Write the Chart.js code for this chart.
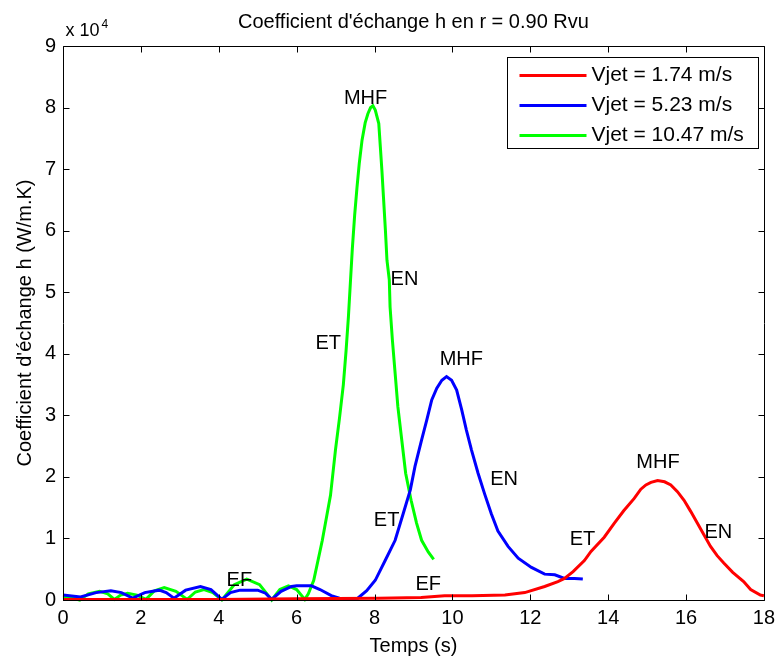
<!doctype html>
<html lang="fr">
<head>
<meta charset="utf-8">
<title>Coefficient d'échange h en r = 0.90 Rvu</title>
<style>
  * { margin: 0; padding: 0; }
  body { background: #fff; }
</style>
</head>
<body>
<canvas id="myChart" width="781" height="659"></canvas>
<script src="https://cdn.jsdelivr.net/npm/chart.js/dist/chart.umd.min.js"></script>
<script>
// h values are in units of 10^4 W/m.K, time in s

// Vjet = 1.74 m/s
const redT = [0, 2, 4, 6, 8.1, 9.2, 9.8, 10.5, 11.35, 11.86, 12.37, 12.71, 12.88, 13.1, 13.39, 13.56, 13.9, 14.16,
  14.4, 14.67, 14.84, 14.97, 15.1, 15.27, 15.45, 15.61, 15.78, 15.95, 16.12, 16.29, 16.46, 16.63, 16.8, 16.97,
  17.2, 17.48, 17.66, 17.91, 18.0];
const redH = [0.01, 0.01, 0.01, 0.02, 0.03, 0.04, 0.07, 0.07, 0.08, 0.12, 0.22, 0.30, 0.35, 0.46, 0.64, 0.79, 1.02, 1.25,
  1.45, 1.65, 1.8, 1.87, 1.91, 1.94, 1.92, 1.87, 1.76, 1.62, 1.44, 1.25, 1.06, 0.87, 0.72, 0.60,
  0.45, 0.30, 0.17, 0.08, 0.07];

// Vjet = 5.23 m/s
const blueT = [0, 0.45, 0.85, 1.23, 1.5, 1.79, 2.1, 2.47, 2.65, 2.85, 3.15, 3.53, 3.8, 4.08, 4.3, 4.55, 5.0, 5.2, 5.36,
  5.6, 5.87, 6.0, 6.38, 6.6, 6.89, 7.1, 7.23, 7.57, 7.8, 8.02, 8.28, 8.53, 8.74, 8.92, 9.04, 9.21, 9.34, 9.47, 9.6,
  9.73, 9.85, 9.98, 10.11, 10.24, 10.36, 10.49, 10.66, 10.83, 11.0, 11.17, 11.43, 11.69, 12.03, 12.37, 12.63,
  12.88, 13.14, 13.35];
const blueH = [0.08, 0.05, 0.12, 0.15, 0.12, 0.03, 0.12, 0.16, 0.12, 0.03, 0.16, 0.22, 0.17, 0.01, 0.12, 0.16, 0.16, 0.11, 0.01,
  0.14, 0.22, 0.23, 0.23, 0.17, 0.07, 0.03, 0.02, 0.03, 0.15, 0.32, 0.65, 0.97, 1.41, 1.79, 2.17, 2.6, 2.92, 3.25, 3.44,
  3.57, 3.63, 3.57, 3.41, 3.09, 2.76, 2.44, 2.06, 1.72, 1.4, 1.12, 0.87, 0.68, 0.53, 0.42, 0.41,
  0.35, 0.35, 0.34];

// Vjet = 10.47 m/s
const greenT = [0, 0.2, 0.43, 0.65, 0.94, 1.15, 1.32, 1.48, 1.66, 1.9, 2.13, 2.35, 2.6, 2.9, 3.19, 3.4, 3.62, 3.85, 4.08,
  4.4, 4.72, 5.05, 5.36, 5.57, 5.79, 6.0, 6.21, 6.3, 6.44, 6.66, 6.87, 7.0, 7.1, 7.2, 7.27, 7.33, 7.38, 7.43, 7.49,
  7.55, 7.61, 7.68, 7.76, 7.83, 7.9, 7.96, 8.02, 8.11, 8.15, 8.19, 8.23, 8.28, 8.32, 8.38, 8.4, 8.46, 8.53, 8.6,
  8.7, 8.8, 8.94, 9.08, 9.21, 9.38, 9.52];
const greenH = [0.05, 0.04, 0.0, 0.1, 0.14, 0.1, 0.01, 0.08, 0.11, 0.08, 0.01, 0.15, 0.2, 0.14, 0.01, 0.13, 0.17, 0.12, 0.0,
  0.25, 0.34, 0.25, 0.0, 0.17, 0.23, 0.17, 0.01, 0.1, 0.32, 0.97, 1.7, 2.45, 2.95, 3.5, 4.05, 4.6, 5.15, 5.7, 6.25,
  6.7, 7.1, 7.47, 7.75, 7.9, 8.0, 8.03, 7.96, 7.74, 7.36, 6.98, 6.55, 6.01, 5.52, 5.2, 4.76, 4.22, 3.68, 3.14,
  2.6, 2.06, 1.62, 1.25, 0.97, 0.78, 0.66];

const seriesLabels = ['Vjet = 1.74 m/s', 'Vjet = 5.23 m/s', 'Vjet = 10.47 m/s'];
const seriesColors = ['#ff0000', '#0000ff', '#00ff00'];

const xTicks = [0, 2, 4, 6, 8, 10, 12, 14, 16, 18];
const yTicks = [0, 1, 2, 3, 4, 5, 6, 7, 8, 9];

// phase labels written next to the curves
const markText = ['MHF', 'EN', 'ET', 'EF', 'MHF', 'EN', 'ET', 'EF', 'MHF', 'EN', 'ET'];
const markT = [7.77, 8.77, 6.81, 4.53, 10.23, 11.33, 8.31, 9.38, 15.28, 16.83, 13.34];
const markH = [8.14, 5.21, 4.16, 0.32, 3.91, 1.95, 1.29, 0.26, 2.23, 1.10, 0.99];

const FONT = "'Liberation Sans', Arial, sans-serif";
Chart.defaults.font.family = FONT;
Chart.defaults.color = '#000';

const toPoints = (ts, hs) => ts.map((t, i) => ({x: t, y: hs[i]}));

// setup
const data = {
  datasets: [
    {label: seriesLabels[0], data: toPoints(redT, redH), borderColor: seriesColors[0]},
    {label: seriesLabels[1], data: toPoints(blueT, blueH), borderColor: seriesColors[1]},
    {label: seriesLabels[2], data: toPoints(greenT, greenH), borderColor: seriesColors[2]}
  ].map(d => Object.assign(d, {borderWidth: 3, pointRadius: 0, tension: 0, fill: false, clip: 4}))
};

// matlab style box, inward ticks, labels and legend
const matlabAxes = {
  id: 'matlabAxes',
  afterDatasetsDraw(chart) {
    const {ctx, chartArea: {left, right, top, bottom}, scales: {x, y}} = chart;
    const L = Math.round(left) + 0.5, R = Math.round(right) + 0.5;
    const T = Math.round(top) + 0.5, B = Math.round(bottom) + 0.5;
    const tl = 6;
    ctx.save();
    ctx.strokeStyle = '#000';
    ctx.lineWidth = 1;
    ctx.beginPath();
    ctx.rect(L, T, R - L, B - T);
    xTicks.forEach(v => {
      const px = Math.round(x.getPixelForValue(v)) + 0.5;
      ctx.moveTo(px, B); ctx.lineTo(px, B - tl);
      ctx.moveTo(px, T); ctx.lineTo(px, T + tl);
    });
    yTicks.forEach(v => {
      const py = Math.round(y.getPixelForValue(v)) + 0.5;
      ctx.moveTo(L, py); ctx.lineTo(L + tl, py);
      ctx.moveTo(R, py); ctx.lineTo(R - tl, py);
    });
    ctx.stroke();

    // phase labels
    ctx.fillStyle = '#000';
    ctx.font = '20px ' + FONT;
    ctx.textAlign = 'center';
    ctx.textBaseline = 'middle';
    markText.forEach((s, i) => {
      ctx.fillText(s, x.getPixelForValue(markT[i]), y.getPixelForValue(markH[i]));
    });

    // exponent
    ctx.textAlign = 'left';
    ctx.textBaseline = 'alphabetic';
    ctx.font = '18px ' + FONT;
    ctx.fillText('x 10', L + 2, T - 11);
    ctx.font = '12px ' + FONT;
    ctx.fillText('4', L + 38, T - 19);

    // legend
    const lx = 507.5, ly = 57.5, lw = 251, lh = 91;
    ctx.fillStyle = '#fff';
    ctx.fillRect(lx, ly, lw, lh);
    ctx.strokeRect(lx, ly, lw, lh);
    ctx.font = '21px ' + FONT;
    ctx.textBaseline = 'middle';
    chart.data.datasets.forEach((ds, i) => {
      const ry = ly + 18 + i * 30;
      ctx.strokeStyle = ds.borderColor;
      ctx.lineWidth = 3;
      ctx.beginPath();
      ctx.moveTo(lx + 12, ry);
      ctx.lineTo(lx + 79, ry);
      ctx.stroke();
      ctx.fillStyle = '#000';
      ctx.fillText(ds.label, lx + 84, ry);
    });
    ctx.restore();
  }
};

// config
const config = {
  type: 'line',
  data,
  options: {
    responsive: false,
    animation: false,
    layout: {padding: {top: 0, right: 14, left: 0, bottom: 0}},
    plugins: {
      legend: {display: false},
      tooltip: {enabled: false},
      title: {
        display: true,
        text: "Coefficient d'échange h en r = 0.90 Rvu",
        fullSize: false,
        color: '#000',
        font: {size: 20, weight: 'normal'},
        padding: {top: 10, bottom: 12}
      }
    },
    scales: {
      x: {
        type: 'linear',
        min: 0,
        max: 18,
        afterBuildTicks: s => { s.ticks = xTicks.map(v => ({value: v})); },
        afterFit: s => { s.height = 59; },
        grid: {display: false, drawTicks: false},
        border: {display: false},
        ticks: {font: {size: 20}, padding: 6, maxRotation: 0, color: '#000'},
        title: {display: true, text: 'Temps (s)', font: {size: 20}, color: '#000', padding: {top: 0, bottom: 1}}
      },
      y: {
        type: 'linear',
        min: 0,
        max: 9,
        afterBuildTicks: s => { s.ticks = yTicks.map(v => ({value: v})); },
        afterFit: s => { s.width = 63; },
        grid: {display: false, drawTicks: false},
        border: {display: false},
        ticks: {font: {size: 20}, padding: 7, color: '#000'},
        title: {display: true, text: "Coefficient d'échange h (W/m.K)", font: {size: 20}, color: '#000', padding: {top: 13, bottom: 0}}
      }
    }
  },
  plugins: [matlabAxes]
};

// render init block
const myChart = new Chart(document.getElementById('myChart'), config);
</script>
</body>
</html>
